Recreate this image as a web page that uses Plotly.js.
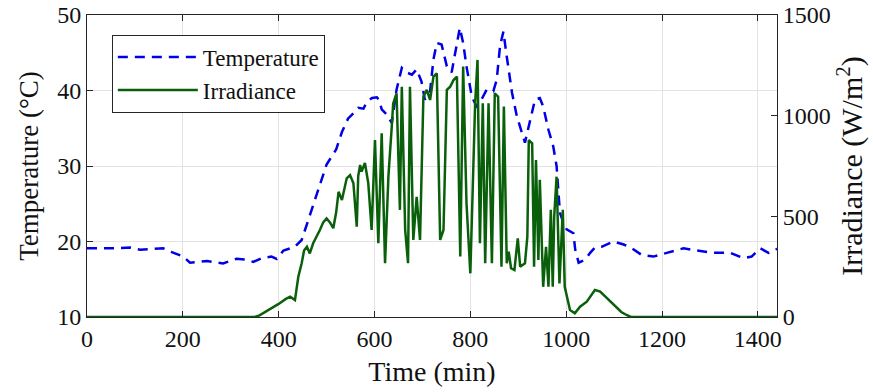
<!DOCTYPE html>
<html>
<head>
<meta charset="utf-8">
<script src="https://cdn.plot.ly/plotly-3.0.1.min.js"></script>
<style>html,body{margin:0;padding:0;background:#fff;}#chart{width:873px;height:392px;}</style>
</head>
<body>
<div id="chart"></div>
<script>
// Temperature series (minutes, °C)
var tempTime = [0,50,90,111,130,159,177,201,215,235,250,284,312,330,347,365,385,396,410,434,448,459,470,480,490,500,510,520,532,545,556,566,577,584,595,605,610,615,626,636,646,657,667,678,688,698,705,716,723,730,740,751,761,772,778,785,792,803,813,820,834,848,855,862,869,876,887,897,907,914,925,935,945,952,963,973,980,987,994,1001,1015,1019,1026,1040,1050,1060,1074,1085,1099,1120,1137,1158,1182,1210,1245,1273,1307,1342,1370,1387,1405,1422,1433,1440];
var tempVals = [19.1,19.1,19.2,18.9,19.0,19.1,18.6,18.0,17.2,17.3,17.4,17.1,17.7,17.6,17.3,17.8,18.0,17.7,18.8,19.3,20.2,22.3,24.5,26.5,28.5,30.2,31.2,32.2,34.5,36.3,37.0,37.7,37.6,38.5,39.0,39.1,38.7,37.5,36.8,35.7,40.1,43.0,42.4,42.1,42.8,41.2,38.8,39.9,44.1,46.3,46.1,43.2,42.4,45.9,48.3,46.3,43.2,39.2,37.9,38.4,40.1,39.9,41.4,45.9,47.8,44.5,39.7,36.6,34.4,33.1,36.1,38.8,39.0,37.9,34.8,32.6,30.0,23.8,22.5,21.6,21.1,18.9,17.2,17.6,18.5,19.2,19.3,19.6,20.0,19.6,19.1,18.2,18.0,18.5,19.1,18.8,18.5,18.5,17.8,18.0,19.1,18.5,18.9,19.0];

// Irradiance series (minutes, W/m²)
var irrTime = [0,350,360,380,400,415,424,434,441,448,453,459,465,472,480,486,493,500,507,514,520,525,532,537,542,549,556,563,566,570,573,580,587,594,601,608,615,622,629,636,639,646,653,657,664,670,674,681,688,695,702,709,716,723,730,737,744,751,758,765,772,779,785,792,800,810,815,820,826,831,838,845,851,858,865,870,876,880,885,892,899,904,914,919,922,929,933,937,942,945,952,958,963,968,972,975,980,986,993,997,1008,1018,1029,1043,1052,1060,1071,1085,1100,1115,1126,1135,1440];
var irrVals = [0,0,8,35,65,90,101,84,200,267,330,349,316,366,400,432,470,490,470,441,520,622,581,640,689,705,664,449,700,755,722,765,665,432,879,366,912,267,697,945,1060,1111,532,1144,432,267,1144,383,597,383,1094,1128,1078,1194,1210,383,432,1128,1144,1177,1194,300,1244,565,217,1062,1277,366,1062,267,1062,267,1111,1094,250,1045,267,325,242,233,391,250,267,399,879,863,250,780,283,681,150,349,150,532,150,498,697,167,532,150,35,18,51,76,110,134,126,93,60,25,10,0,0];

// Axis ticks and titles
var xTicks = [0,200,400,600,800,1000,1200,1400];
var tempTicks = [10,20,30,40,50];
var irrTicks = [0,500,1000,1500];
var xTitle = 'Time (min)';
var yTitle = 'Temperature (°C)';
var y2Title = 'Irradiance (W/m<sup>2</sup>)';

var FONT = "Liberation Serif, Times New Roman, serif";
var AX = '#262626';

var traces = [
  {x: tempTime, y: tempVals, name: 'Temperature', type: 'scatter', mode: 'lines',
   line: {color: '#0000e6', width: 2.5, dash: '10px,7px'}, yaxis: 'y'},
  {x: irrTime, y: irrVals, name: 'Irradiance', type: 'scatter', mode: 'lines',
   line: {color: '#0a600a', width: 2.5}, yaxis: 'y2'}
];

var layout = {
  width: 873, height: 392,
  margin: {l: 87, r: 96, t: 15, b: 75, pad: 0},
  paper_bgcolor: '#ffffff', plot_bgcolor: '#ffffff',
  font: {family: FONT, size: 24, color: '#262626'},
  showlegend: true,
  legend: {x: 0.036, y: 0.935, xanchor: 'left', yanchor: 'top',
    bgcolor: '#ffffff', bordercolor: AX, borderwidth: 1,
    font: {family: FONT, size: 23, color: '#111'}, itemwidth: 80, tracegroupgap: 0},
  xaxis: {range: [0, 1440], tickvals: xTicks, ticktext: xTicks.map(String),
    ticks: 'inside', ticklen: 6, tickcolor: AX, showline: true, linecolor: AX, linewidth: 1,
    mirror: 'ticks', showgrid: true, gridcolor: '#e3e3e3', gridwidth: 1, zeroline: false,
    tickfont: {family: FONT, size: 24, color: '#111'},
    title: {text: xTitle, font: {family: FONT, size: 28, color: '#111'}, standoff: 10}},
  yaxis: {range: [10, 50], tickvals: tempTicks, ticktext: tempTicks.map(String),
    ticks: 'inside', ticklen: 6, tickcolor: AX, showline: true, linecolor: AX, linewidth: 1,
    mirror: false, showgrid: true, gridcolor: '#e3e3e3', gridwidth: 1, zeroline: false,
    tickfont: {family: FONT, size: 24, color: '#111'},
    title: {text: yTitle, font: {family: FONT, size: 27, color: '#111'}, standoff: 10}},
  yaxis2: {range: [0, 1500], tickvals: irrTicks, ticktext: irrTicks.map(String),
    overlaying: 'y', side: 'right', anchor: 'x',
    ticks: 'inside', ticklen: 6, tickcolor: AX, showline: true, linecolor: AX, linewidth: 1,
    showgrid: false, zeroline: false,
    tickfont: {family: FONT, size: 24, color: '#111'},
    title: {text: y2Title, font: {family: FONT, size: 30, color: '#111'}, standoff: 8}}
};

Plotly.newPlot('chart', traces, layout, {staticPlot: true, displayModeBar: false});
</script>
</body>
</html>
